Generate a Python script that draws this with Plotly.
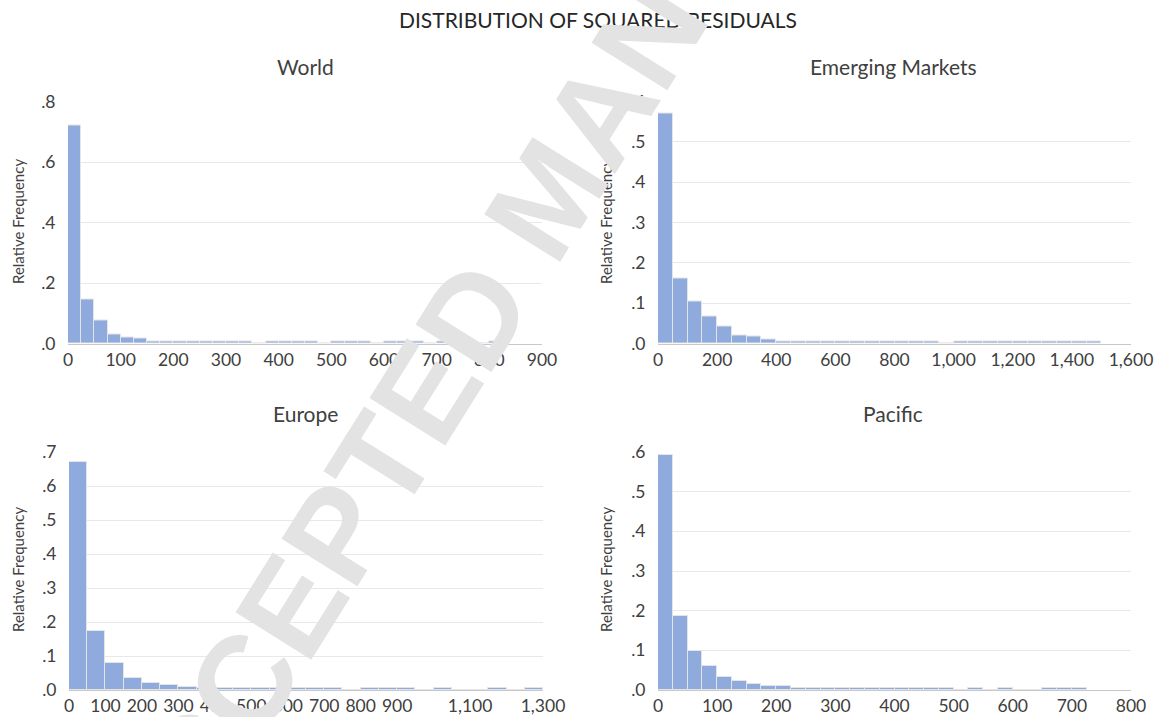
import plotly.graph_objects as go

W, H = 1159, 717

# ---------------- data ----------------
panel_titles = ["World", "Emerging Markets", "Europe", "Pacific"]

world_bin_width = 25
world_freq = [0.720, 0.147, 0.075, 0.031, 0.021, 0.015,
              0.008, 0.008, 0.008, 0.008, 0.008, 0.008, 0.008, 0.008,
              0.000, 0.008, 0.008, 0.008, 0.008, 0.000,
              0.008, 0.008, 0.008, 0.000, 0.008, 0.008, 0.008, 0.000,
              0.008, 0.008, 0.000, 0.000, 0.008]

em_bin_width = 50
em_freq = [0.570, 0.162, 0.104, 0.066, 0.042, 0.021, 0.017, 0.010,
           0.005, 0.005, 0.005, 0.005, 0.005, 0.005, 0.005, 0.005, 0.005, 0.005, 0.005,
           0.000,
           0.005, 0.005, 0.005, 0.005, 0.005, 0.005, 0.005, 0.005, 0.005, 0.005]

europe_bin_width = 50
europe_freq = [0.670, 0.173, 0.078, 0.035, 0.020, 0.015, 0.010,
               0.005, 0.005, 0.005, 0.005, 0.005, 0.005, 0.005, 0.005,
               0.000, 0.005, 0.005, 0.005, 0.000, 0.005, 0.000, 0.000,
               0.005, 0.000, 0.005]

pacific_bin_width = 25
pacific_freq = [0.592, 0.187, 0.099, 0.061, 0.032, 0.022, 0.015, 0.011, 0.011,
                0.005, 0.005, 0.005, 0.005, 0.005, 0.005, 0.005, 0.005, 0.005, 0.005, 0.005,
                0.000, 0.005, 0.000, 0.005, 0.000, 0.000, 0.005, 0.005, 0.005]

world_xticks = [0, 100, 200, 300, 400, 500, 600, 700, 800, 900]
em_xticks = [0, 200, 400, 600, 800, 1000, 1200, 1400, 1600]
europe_xticks = [0, 100, 200, 300, 400, 500, 600, 700, 800, 900, 1100, 1300]
pacific_xticks = [0, 100, 200, 300, 400, 500, 600, 700, 800]

world_yticks = [0.0, 0.2, 0.4, 0.6, 0.8]
em_yticks = [0.0, 0.1, 0.2, 0.3, 0.4, 0.5, 0.6]
europe_yticks = [0.0, 0.1, 0.2, 0.3, 0.4, 0.5, 0.6, 0.7]
pacific_yticks = [0.0, 0.1, 0.2, 0.3, 0.4, 0.5, 0.6]

x_max = [900, 1600, 1300, 800]

# ---------------- styling ----------------
FONT = "Lato"
TXT = "#404040"
BAR = "#8FAADC"
GRID = "#E8E8E8"

def px_x(p):
    return p / W

def px_y(p):
    return 1 - p / H

# pixel boxes (left, right, top, bottom) for each panel's plot area
boxes = [(68, 542, 101.5, 343.5), (658, 1131, 101.5, 343.5),
         (69, 543, 452, 690), (658, 1131, 452, 690)]

panels = [
    (world_freq, world_bin_width, world_xticks, world_yticks),
    (em_freq, em_bin_width, em_xticks, em_yticks),
    (europe_freq, europe_bin_width, europe_xticks, europe_yticks),
    (pacific_freq, pacific_bin_width, pacific_xticks, pacific_yticks),
]

fig = go.Figure()
layout = dict(
    width=W, height=H,
    margin=dict(l=0, r=0, t=0, b=0, autoexpand=False),
    paper_bgcolor="white", plot_bgcolor="white",
    showlegend=False, bargap=0,
    font=dict(family=FONT, color=TXT, size=14),
)

annotations = []
for i, (freq, bw, xt, yt) in enumerate(panels):
    k = "" if i == 0 else str(i + 1)
    xa, ya = "x" + k, "y" + k
    centers = [j * bw + bw / 2 for j in range(len(freq))]
    fig.add_trace(go.Bar(
        x=centers, y=freq, width=bw, xaxis=xa, yaxis=ya,
        marker=dict(color=BAR, line=dict(color="#E4E4E4", width=1)),
        hoverinfo="x+y",
    ))
    l, r, t, b = boxes[i]
    layout["xaxis" + k] = dict(
        domain=[px_x(l), px_x(r)], anchor=ya, range=[0, x_max[i]],
        tickvals=xt, tickformat=",", showgrid=False, zeroline=False,
        showline=True, linecolor="#C8C8C8", linewidth=1, automargin=False,
        ticks="outside", ticklen=0, tickcolor="rgba(0,0,0,0)",
        tickfont=dict(size=17.5, color=TXT, family=FONT),
    )
    layout["yaxis" + k] = dict(
        domain=[px_y(b), px_y(t)], anchor=xa, range=[0, yt[-1]],
        tickvals=yt, ticktext=["." + f"{v:.1f}".split(".")[1] for v in yt],
        showgrid=True, gridcolor=GRID, gridwidth=1, zeroline=False,
        showline=False, automargin=False,
        ticks="outside", ticklen=8, tickcolor="rgba(0,0,0,0)",
        tickfont=dict(size=17.5, color=TXT, family=FONT),
    )
    # panel title
    annotations.append(dict(
        text=panel_titles[i], xref="paper", yref="paper",
        x=px_x((305 if i % 2 == 0 else 893)), y=px_y(66 if i < 2 else 413),
        xanchor="center", yanchor="middle", showarrow=False,
        font=dict(size=21, color=TXT, family=FONT),
    ))
    # y axis title
    annotations.append(dict(
        text="Relative Frequency", xref="paper", yref="paper",
        x=px_x(18 if i % 2 == 0 else 606), y=px_y(222 if i < 2 else 570),
        xanchor="center", yanchor="middle", showarrow=False, textangle=-90,
        font=dict(size=15, color=TXT, family=FONT),
    ))

annotations.append(dict(
    text="DISTRIBUTION OF SQUARED RESIDUALS", xref="paper", yref="paper",
    x=px_x(598), y=px_y(20), xanchor="center", yanchor="middle",
    showarrow=False, font=dict(size=21, color="#262626", family=FONT),
))

# watermark
annotations.append(dict(
    text="<b>ACCEPTED MANUSCRIPT</b>", xref="paper", yref="paper",
    x=px_x(548), y=px_y(196), xanchor="center", yanchor="middle",
    showarrow=False, textangle=-58,
    font=dict(size=130, color="#E3E3E3", family="Liberation Sans"),
))

layout["annotations"] = annotations
fig.update_layout(**layout)
fig.write_html("out.html", config={"displayModeBar": False},
               post_script="document.body.style.margin='0';")
